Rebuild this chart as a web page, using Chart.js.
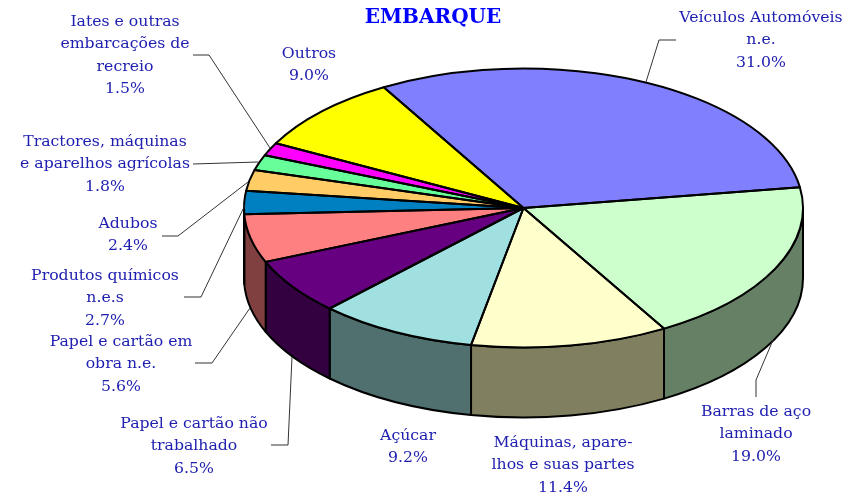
<!DOCTYPE html>
<html>
<head>
<meta charset="utf-8">
<style>
    html, body { margin: 0; padding: 0; background: #fff; }
    #wrap { position: relative; width: 855px; height: 497px; }
</style>
<script src="https://cdn.jsdelivr.net/npm/chart.js@4"></script>
</head>
<body>
<div id="wrap"><canvas id="grafico" width="855" height="497"></canvas></div>
<script>
const tituloGrafico = 'EMBARQUE';
const categorias = [
    'Veículos Automóveis\nn.e.',
    'Barras de aço\nlaminado',
    'Máquinas, apare-\nlhos e suas partes',
    'Açúcar',
    'Papel e cartão não\ntrabalhado',
    'Papel e cartão em\nobra n.e.',
    'Produtos químicos\nn.e.s',
    'Adubos',
    'Tractores, máquinas\ne aparelhos agrícolas',
    'Iates e outras\nembarcações de\nrecreio',
    'Outros'
];
const valores = [31.0, 19.0, 11.4, 9.2, 6.5, 5.6, 2.7, 2.4, 1.8, 1.5, 9.0];
const cores = ['#8080FF', '#CCFFCC', '#FFFFCC', '#A0E0E0', '#660080', '#FF8080',
    '#0080C0', '#FFCC66', '#66FF99', '#FF00FF', '#FFFF00'];
const coresLado = ['#404080', '#668066', '#808060', '#507070', '#330040', '#804040',
    '#004060', '#806633', '#33804C', '#800080', '#808000'];

// posição dos rótulos: centro x, y da primeira linha
const posRotulos = [
    [761, 18], [756, 412], [563, 443], [408, 436], [194, 424], [121, 342],
    [105, 276], [128, 224], [105, 142], [125, 22], [309, 54]
];
// linhas de chamada (null = sem linha)
const linhasChamada = [
    [[676, 40], [659, 40], [646, 82]],
    [[756, 397], [756, 380], [773, 340]],
    null,
    null,
    [[271, 445], [288, 445], [292, 357]],
    [[195, 363], [212, 363], [250, 308]],
    [[184, 297], [201, 297], [245, 205]],
    [[162, 236], [178, 236], [248, 182]],
    [[193, 164], [258, 162]],
    [[193, 55], [209, 55], [270, 148]],
    null
];

const achatamento = 139.5 / 279.5;
const profundidade = 70;

// caminho da parede lateral de uma fatia (só a parte da frente, 0 a PI)
function paredeFatia(ctx, arc, a1, a2) {
    const ry = arc.outerRadius * achatamento;
    ctx.beginPath();
    ctx.ellipse(arc.x, arc.y, arc.outerRadius, ry, 0, a1, a2);
    ctx.lineTo(arc.x + arc.outerRadius * Math.cos(a2), arc.y + ry * Math.sin(a2) + profundidade);
    ctx.ellipse(arc.x, arc.y + profundidade, arc.outerRadius, ry, 0, a2, a1, true);
    ctx.closePath();
}

const pizza3d = {
    id: 'pizza3d',
    beforeDatasetsDraw(chart) {
        const ctx = chart.ctx;
        const arcos = chart.getDatasetMeta(0).data;
        ctx.save();
        ctx.lineWidth = 2;
        ctx.strokeStyle = '#000';
        ctx.lineJoin = 'round';
        arcos.forEach((arc, i) => {
            // normaliza para 0..2PI
            let ini = arc.startAngle, fim = arc.endAngle;
            if (ini < 0) { ini += Math.PI * 2; fim += Math.PI * 2; }
            [[ini, fim], [ini - Math.PI * 2, fim - Math.PI * 2]].forEach(([a, b]) => {
                const a1 = Math.max(a, 0), a2 = Math.min(b, Math.PI);
                if (a2 <= a1) return;
                paredeFatia(ctx, arc, a1, a2);
                ctx.fillStyle = coresLado[i];
                ctx.fill();
                ctx.stroke();
            });
        });
        ctx.restore();

        // achata o círculo em elipse
        const a0 = arcos[0];
        ctx.save();
        ctx.translate(a0.x, a0.y);
        ctx.scale(1, achatamento);
        ctx.translate(-a0.x, -a0.y);
    },
    afterDatasetsDraw(chart) {
        const ctx = chart.ctx;
        ctx.restore();
        const arcos = chart.getDatasetMeta(0).data;

        // contorno da tampa, com traço uniforme
        ctx.save();
        ctx.lineWidth = 2;
        ctx.strokeStyle = '#000';
        ctx.lineJoin = 'round';
        arcos.forEach(arc => {
            const ry = arc.outerRadius * achatamento;
            ctx.beginPath();
            ctx.moveTo(arc.x, arc.y);
            ctx.ellipse(arc.x, arc.y, arc.outerRadius, ry, 0, arc.startAngle, arc.endAngle);
            ctx.closePath();
            ctx.stroke();
        });
        ctx.restore();

        // linhas de chamada
        ctx.save();
        ctx.lineWidth = 1;
        ctx.strokeStyle = '#333';
        linhasChamada.forEach(pontos => {
            if (!pontos) return;
            ctx.beginPath();
            pontos.forEach((p, k) => k ? ctx.lineTo(p[0], p[1]) : ctx.moveTo(p[0], p[1]));
            ctx.stroke();
        });
        ctx.restore();

        // rótulos
        ctx.save();
        ctx.textAlign = 'center';
        ctx.textBaseline = 'middle';
        ctx.fillStyle = '#2020B0';
        ctx.font = '15.7px "DejaVu Serif"';
        categorias.forEach((nome, i) => {
            const linhas = nome.split('\n').concat(valores[i].toFixed(1) + '%');
            linhas.forEach((txt, k) => {
                ctx.fillText(txt, posRotulos[i][0], posRotulos[i][1] + k * 22.3);
            });
        });
        ctx.fillStyle = '#0000FF';
        ctx.font = 'bold 20px "DejaVu Serif"';
        ctx.fillText(tituloGrafico, 433, 18);
        ctx.restore();
    }
};

new Chart(document.getElementById('grafico'), {
    type: 'pie',
    data: {
        labels: categorias,
        datasets: [{
            data: valores,
            backgroundColor: cores,
            borderWidth: 0,
            clip: false
        }]
    },
    options: {
        responsive: false,
        animation: false,
        events: [],
        rotation: -30,
        radius: 279.5,
        layout: { padding: { left: 192, right: 0, top: 0, bottom: 81 } },
        plugins: {
            legend: { display: false },
            tooltip: { enabled: false },
            title: { display: false }
        }
    },
    plugins: [pizza3d]
});
</script>
</body>
</html>
